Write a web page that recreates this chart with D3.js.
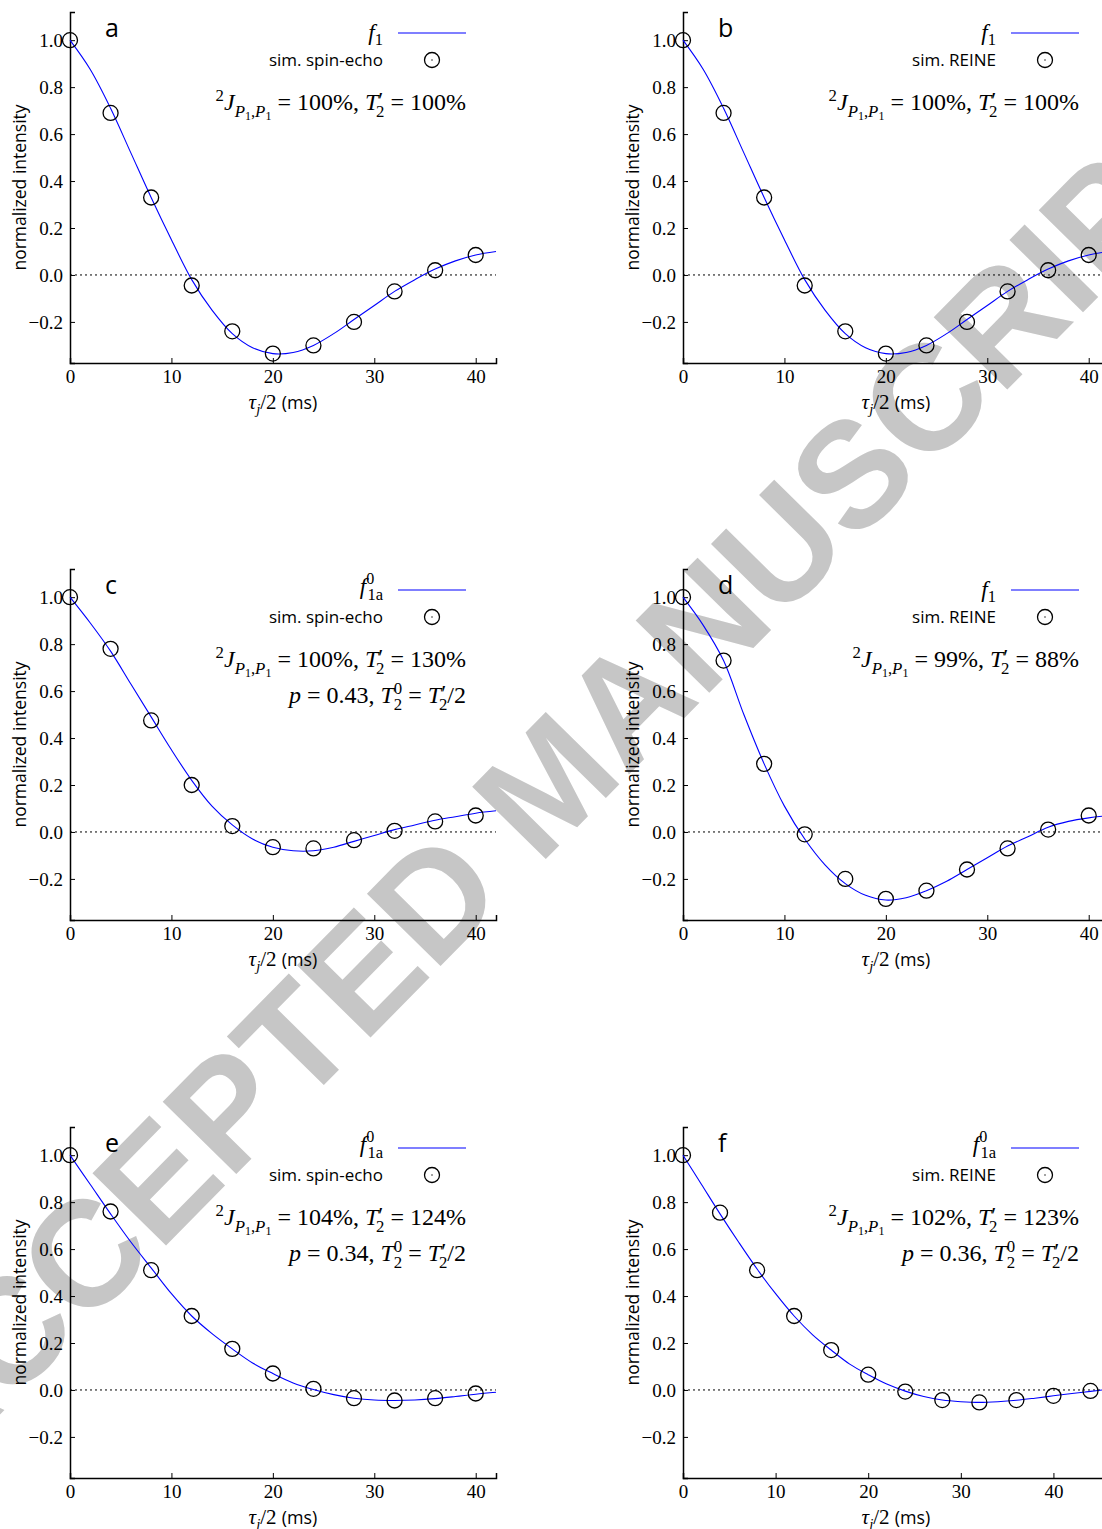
<!DOCTYPE html>
<html>
<head>
<meta charset="utf-8">
<script src="https://cdn.jsdelivr.net/npm/d3@7"></script>
<style>
  body { margin: 0; background: #fff; }
  svg { display: block; }
  .sans { font-family: "Open Sans", "DejaVu Sans", sans-serif; }
  .serif { font-family: "Liberation Serif", serif; }
</style>
</head>
<body>
<svg id="chart"></svg>
<script>
// sample times (ms)
const xPts = [0, 4, 8, 12, 16, 20, 24, 28, 32, 36, 40];
const xPtsF = [0, 4, 8, 12, 16, 20, 24, 28, 32, 36, 40, 44];
const xCurve = [0, 2, 4, 6, 8, 10, 12, 14, 16, 18, 20, 22, 24, 26, 28, 30, 32, 34, 36, 38, 40, 42];
const xCurveF = [0, 2, 4, 6, 8, 10, 12, 14, 16, 18, 20, 22, 24, 26, 28, 30, 32, 34, 36, 38, 40, 42, 44, 46];

// simulated points
const ptsA = [1.0, 0.69, 0.33, -0.045, -0.24, -0.335, -0.30, -0.20, -0.07, 0.02, 0.085];
const ptsB = [1.0, 0.69, 0.33, -0.045, -0.24, -0.335, -0.30, -0.20, -0.07, 0.02, 0.085];
const ptsC = [1.0, 0.78, 0.475, 0.20, 0.025, -0.065, -0.07, -0.035, 0.005, 0.045, 0.07];
const ptsD = [1.0, 0.73, 0.29, -0.01, -0.20, -0.285, -0.25, -0.16, -0.07, 0.01, 0.07];
const ptsE = [1.0, 0.76, 0.51, 0.315, 0.175, 0.07, 0.005, -0.035, -0.045, -0.035, -0.015];
const ptsF = [1.0, 0.755, 0.51, 0.315, 0.17, 0.065, -0.007, -0.043, -0.053, -0.043, -0.025, -0.004];

// fitted curves
const curveA = [1.0, 0.875, 0.71, 0.52, 0.33, 0.15, -0.02, -0.15, -0.25, -0.31, -0.335, -0.33, -0.30, -0.25, -0.19, -0.13, -0.07, -0.02, 0.025, 0.06, 0.085, 0.10];
const curveB = [1.0, 0.875, 0.71, 0.52, 0.33, 0.15, -0.02, -0.15, -0.25, -0.31, -0.335, -0.33, -0.30, -0.25, -0.19, -0.13, -0.07, -0.02, 0.025, 0.06, 0.085, 0.10];
const curveC = [1.0, 0.89, 0.77, 0.63, 0.49, 0.35, 0.22, 0.11, 0.03, -0.03, -0.065, -0.08, -0.08, -0.065, -0.04, -0.015, 0.01, 0.03, 0.05, 0.065, 0.08, 0.09];
const curveD = [1.0, 0.88, 0.73, 0.50, 0.29, 0.11, -0.03, -0.14, -0.22, -0.27, -0.29, -0.28, -0.25, -0.21, -0.16, -0.11, -0.06, -0.02, 0.02, 0.045, 0.06, 0.07];
const curveE = [1.0, 0.875, 0.75, 0.63, 0.52, 0.41, 0.315, 0.24, 0.175, 0.115, 0.07, 0.03, 0.002, -0.02, -0.035, -0.043, -0.045, -0.043, -0.037, -0.028, -0.018, -0.01];
const curveF = [1.0, 0.875, 0.75, 0.63, 0.515, 0.41, 0.315, 0.235, 0.17, 0.11, 0.065, 0.025, -0.005, -0.028, -0.043, -0.05, -0.053, -0.05, -0.044, -0.035, -0.025, -0.015, -0.006, 0.003];

const xTicks = [0, 10, 20, 30, 40];
const yTicks = [-0.2, 0.0, 0.2, 0.4, 0.6, 0.8, 1.0];

const W = 1102, H = 1529;
const colX = [70, 683];
const rowTop = [12, 569, 1127];
const plotW = 426, plotH = 351;
const blue = "#0000ff";

const panels = [
  { letter: "a", col: 0, row: 0, xMax: 42, xs: xPts, pts: ptsA, xc: xCurve, curve: curveA, fit: "f1", sim: "sim.  spin-echo", J: "100", T: "100", p: null },
  { letter: "b", col: 1, row: 0, xMax: 42, xs: xPts, pts: ptsB, xc: xCurve, curve: curveB, fit: "f1", sim: "sim.  REINE", J: "100", T: "100", p: null },
  { letter: "c", col: 0, row: 1, xMax: 42, xs: xPts, pts: ptsC, xc: xCurve, curve: curveC, fit: "f1a", sim: "sim.  spin-echo", J: "100", T: "130", p: "0.43" },
  { letter: "d", col: 1, row: 1, xMax: 42, xs: xPts, pts: ptsD, xc: xCurve, curve: curveD, fit: "f1", sim: "sim.  REINE", J: "99", T: "88", p: null },
  { letter: "e", col: 0, row: 2, xMax: 42, xs: xPts, pts: ptsE, xc: xCurve, curve: curveE, fit: "f1a", sim: "sim.  spin-echo", J: "104", T: "124", p: "0.34" },
  { letter: "f", col: 1, row: 2, xMax: 46, xs: xPtsF, pts: ptsF, xc: xCurveF, curve: curveF, fit: "f1a", sim: "sim.  REINE", J: "102", T: "123", p: "0.36" }
];

const svg = d3.select("#chart").attr("width", W).attr("height", H);
svg.append("rect").attr("width", W).attr("height", H).attr("fill", "#fff");

// watermark, under the plots
svg.append("text")
  .attr("transform", "translate(548,782) rotate(-45.5)")
  .attr("text-anchor", "middle").attr("dy", "0.35em")
  .style("font-family", "'Liberation Sans', Arial, sans-serif")
  .style("font-weight", "bold").style("font-size", "150px")
  .attr("fill", "#c6c6c6")
  .text("ACCEPTED MANUSCRIPT");

// text with sub/superscripts; segs = [text, {it, shift(em), scale, dx(em), sans}]
function rich(g, x, y, size, anchor, segs) {
  const t = g.append("text").attr("x", x).attr("y", y)
    .attr("text-anchor", anchor).attr("class", "serif")
    .style("font-size", size + "px");
  let cur = 0;
  segs.forEach(([s, o = {}]) => {
    const shift = (o.shift || 0) * size;
    const ts = t.append("tspan").text(s)
      .attr("dy", shift - cur)
      .style("font-size", (size * (o.scale || 1)) + "px");
    if (o.dx) ts.attr("dx", o.dx * size);
    if (o.it) ts.style("font-style", "italic");
    if (o.sans) ts.attr("class", "sans");
    cur = shift;
  });
  return t;
}

const sup = { shift: -0.38, scale: 0.7 };
const prime = { shift: -0.08, scale: 0.95 };

panels.forEach(p => {
  const ox = colX[p.col], oy = rowTop[p.row];
  const g = svg.append("g").attr("transform", "translate(" + ox + "," + oy + ")");

  const x = d3.scaleLinear().domain([0, p.xMax]).range([0, plotW]);
  const y = d3.scaleLinear().domain([-0.375, 1.12]).range([plotH, 0]);

  // zero line
  g.append("line")
    .attr("x1", 0).attr("x2", plotW)
    .attr("y1", y(0)).attr("y2", y(0))
    .attr("stroke", "#000").attr("stroke-width", 1)
    .attr("stroke-dasharray", "2,3");

  g.append("g").attr("transform", "translate(0," + plotH + ")")
    .call(d3.axisBottom(x).tickValues(xTicks).tickSize(-5).tickPadding(7).tickFormat(d3.format("d")))
    .call(a => a.select(".domain").attr("stroke-width", 1.5))
    .call(a => a.selectAll(".tick text")
      .style("font-family", "'Liberation Serif', serif").style("font-size", "19px"));

  g.append("g")
    .call(d3.axisLeft(y).tickValues(yTicks).tickSize(-5).tickPadding(7)
      .tickFormat(d => d3.format(".1f")(d).replace("-", "\u2212")))
    .call(a => a.select(".domain").attr("stroke-width", 1.5))
    .call(a => a.selectAll(".tick text").attr("dy", "0.35em")
      .style("font-family", "'Liberation Serif', serif").style("font-size", "19px"));

  // fit curve
  const line = d3.line().x((d, i) => x(p.xc[i])).y(d => y(d)).curve(d3.curveCatmullRom);
  g.append("path").datum(p.curve).attr("d", line)
    .attr("fill", "none").attr("stroke", blue).attr("stroke-width", 1.1);

  // simulated points
  g.selectAll(".pt").data(p.pts).enter().append("circle")
    .attr("class", "pt")
    .attr("cx", (d, i) => x(p.xs[i])).attr("cy", d => y(d))
    .attr("r", 7.5).attr("fill", "none").attr("stroke", "#000").attr("stroke-width", 1.3);

  // axis labels
  g.append("text").attr("class", "sans")
    .attr("transform", "translate(" + (-44) + "," + (plotH / 2) + ") rotate(-90)")
    .attr("text-anchor", "middle").style("font-size", "17.5px")
    .text("normalized intensity");

  rich(g, plotW / 2, plotH + 46, 21, "middle", [
    ["\u03c4", { it: true }], ["j", { it: true, shift: 0.25, scale: 0.7 }],
    ["/2 ", { shift: 0 }], ["(ms)", { sans: true, scale: 0.85 }]
  ]);

  // panel letter
  g.append("text").attr("class", "sans")
    .attr("x", 35).attr("y", 25).style("font-size", "25px").text(p.letter);

  // legend
  if (p.fit === "f1") {
    rich(g, 313, 28, 23, "end", [["f", { it: true }], ["1", { shift: 0.22, scale: 0.72 }]]);
  } else {
    rich(g, 313, 25, 23, "end", [["f", { it: true }], ["0", { shift: -0.42, scale: 0.7 }],
      ["1a", { shift: 0.28, scale: 0.72, dx: -0.3 }]]);
  }
  g.append("line").attr("x1", 328).attr("x2", 396).attr("y1", 21).attr("y2", 21)
    .attr("stroke", blue).attr("stroke-width", 1.1);
  g.append("text").attr("class", "sans").attr("x", 313).attr("y", 54)
    .attr("text-anchor", "end").style("font-size", "17px").text(p.sim);
  g.append("circle").attr("cx", 362).attr("cy", 48).attr("r", 7.5)
    .attr("fill", "none").attr("stroke", "#000").attr("stroke-width", 1.3);
  g.append("circle").attr("cx", 362).attr("cy", 48).attr("r", 0.7).attr("fill", "#000");

  // parameters
  rich(g, 396, 98, 24, "end", [
    ["2", sup], ["J", { it: true }], ["P", { it: true, shift: 0.28, scale: 0.7 }],
    ["1", { shift: 0.42, scale: 0.5 }], [",", { shift: 0.28, scale: 0.7 }], ["P", { it: true, shift: 0.28, scale: 0.7 }],
    ["1", { shift: 0.42, scale: 0.5 }], [" = " + p.J + "%, ", {}],
    ["T", { it: true }], ["\u2032", prime], ["2", { shift: 0.28, scale: 0.7, dx: -0.3 }],
    [" = " + p.T + "%", {}]
  ]);
  if (p.p) {
    rich(g, 396, 134, 24, "end", [
      ["p", { it: true }], [" = " + p.p + ", ", {}],
      ["T", { it: true }], ["0", sup], ["2", { shift: 0.28, scale: 0.7, dx: -0.35 }],
      [" = ", {}], ["T", { it: true }], ["\u2032", prime], ["2", { shift: 0.28, scale: 0.7, dx: -0.3 }],
      ["/2", {}]
    ]);
  }
});
</script>
</body>
</html>
